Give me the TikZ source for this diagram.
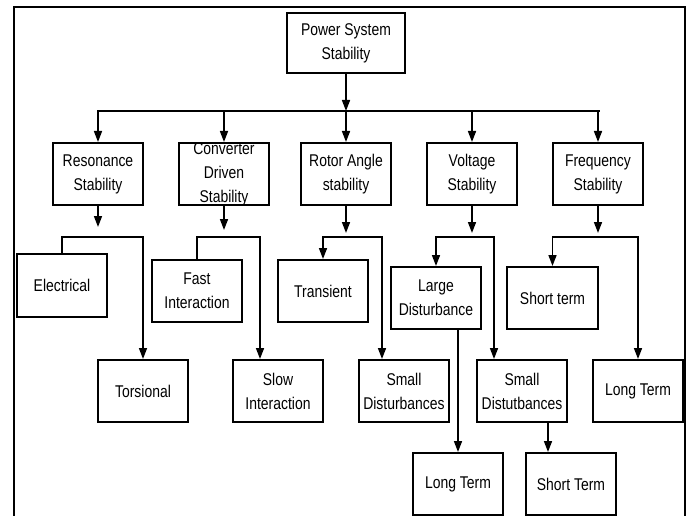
\documentclass[tikz,border=0pt]{standalone}
\usepackage{fontspec}
\setmainfont{Liberation Sans}[FakeStretch=0.82]
\usetikzlibrary{arrows.meta}

\begin{document}
\begin{tikzpicture}[x=1pt,y=-1pt,
	lbl/.style={align=center,inner sep=0pt,font=\fontsize{17}{24}\selectfont},
	box/.style={lbl,draw,line width=2pt,minimum width=90pt,minimum height=62pt},
	link/.style={line width=1.6pt},
	arr/.style={link,-{Triangle[length=11pt,width=8pt]}},
	arrs/.style={link,{Triangle[length=11pt,width=8pt]}-{Triangle[length=11pt,width=8pt]}}]
	\useasboundingbox (0,0) rectangle (691,516);
	\draw[line width=2.6pt] (14,516) -- (14,7) -- (685,7) -- (685,516); % frame
	% top and first row
	\node[box,minimum width=118pt,minimum height=60pt] (pss) at (346,43) {Power System\\Stability};
	\node[box] (res) at (98,174) {Resonance\\Stability};
	\node[box] (conv) at (224,174) {};
	\node[lbl] (convtxt) at (conv) {Converter\\Driven\\Stability};
	\node[box] (rot) at (346,174) {Rotor Angle\\stability};
	\node[box] (volt) at (472,174) {Voltage\\Stability};
	\node[box] (freq) at (598,174) {Frequency\\Stability};
	% second row
	\node[box,minimum height=63pt] (elec) at (62,285.5) {Electrical};
	\node[box] (fast) at (197,291) {Fast\\Interaction};
	\node[box] (trans) at (323,291) {Transient};
	\node[box] (large) at (436,298) {Large\\Disturbance};
	\node[box,minimum width=91pt] (shterm) at (552.5,298) {Short term};
	% third row
	\node[box] (tors) at (143,391) {Torsional};
	\node[box] (slow) at (278,391) {Slow\\Interaction};
	\node[box] (smdist) at (404,391) {Small\\Disturbances};
	\node[box] (smdistv) at (522,391) {Small\\Distutbances};
	\node[box] (lgterm) at (638,391) {Long Term};
	% last row
	\node[box] (lgtermv) at (458,484) {Long Term};
	\node[box] (shtermv) at (571,484) {Short Term};
	% bus
	\coordinate (busL) at (97,111);
	\coordinate (busR) at (600,111);
	\draw[arr] (pss.south) -- (pss.south |- busL);
	\draw[link] (busL) -- (busR);
	\foreach \n in {res,conv,rot,volt,freq}
		\draw[arr] (\n.north |- busL) -- (\n.north);
	% brackets
	\coordinate (resbr) at (98,237);
	\coordinate (convbr) at (224,237);
	\coordinate (rotbr) at (346,237);
	\coordinate (voltbr) at (472,237);
	\coordinate (freqbr) at (598,237);
	\draw[arr] (res.south) -- ([yshift=10pt]resbr);
	\draw[arr] (conv.south) -- ([yshift=7pt]convbr);
	\foreach \n in {rot,volt,freq}
		\draw[arr] (\n.south) -- ([yshift=4pt]\n br);
	\draw[arr] (elec.north) |- (resbr) -| (tors.north);
	\draw[arr] (fast.north) |- (convbr) -| ([xshift=-18pt]slow.north);
	\draw[arrs] (trans.north) |- (rotbr) -| ([xshift=-22pt]smdist.north);
	\draw[arrs] (large.north) |- (voltbr) -| ([xshift=-28pt]smdistv.north);
	\draw[arrs] (shterm.north) |- (freqbr) -| (lgterm.north);
	% down to last row
	\coordinate (stx) at ([xshift=-23pt]shtermv.north);
	\draw[arr] (lgtermv.north |- large.south) -- (lgtermv.north);
	\draw[arr] (stx |- smdistv.south) -- (stx);
\end{tikzpicture}
\end{document}
